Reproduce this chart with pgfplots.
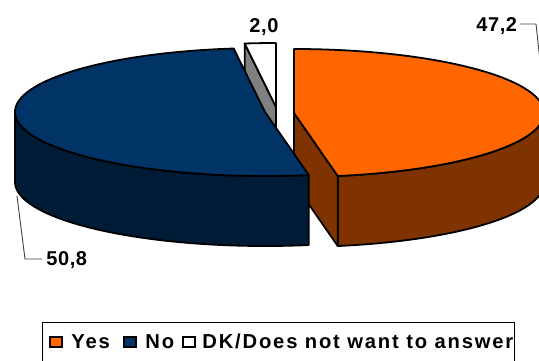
\documentclass[border=0pt]{standalone}
\usepackage{pgfplots}
\usepackage{pgfplotstable}
\pgfplotsset{compat=1.18}
\usepackage{fontspec}
\setmainfont{Liberation Sans}
\newfontfamily\legendfont[LetterSpace=9]{Liberation Sans}
\newfontfamily\labelfont[LetterSpace=3]{Liberation Sans}

\definecolor{yesTop}{HTML}{FF6600}
\definecolor{yesSide}{HTML}{7F3300}
\definecolor{noTop}{HTML}{003366}
\definecolor{noSide}{HTML}{001B36}
\definecolor{dkTop}{HTML}{FFFFFF}
\definecolor{dkSide}{HTML}{808080}

% shares in percent
\pgfplotstableread[col sep=comma]{
answer,share
Yes,47.2
No,50.8
DK/Does not want to answer,2.0
}\piedata

\pgfkeys{/pgf/number format/.cd,fixed,fixed zerofill,precision=1,use comma,assume math mode=true}

\begin{document}
\begin{tikzpicture}
\useasboundingbox (0,0) rectangle (269.5pt,180pt);
\pgfplotstablegetelem{0}{share}\of\piedata \let\vYes\pgfplotsretval
\pgfplotstablegetelem{1}{share}\of\piedata \let\vNo\pgfplotsretval
\pgfplotstablegetelem{2}{share}\of\piedata \let\vDK\pgfplotsretval
\pgfplotstablegetelem{0}{answer}\of\piedata \let\nYes\pgfplotsretval
\pgfplotstablegetelem{1}{answer}\of\piedata \let\nNo\pgfplotsretval
\pgfplotstablegetelem{2}{answer}\of\piedata \let\nDK\pgfplotsretval
% slice boundaries, clockwise from 12 o'clock
\pgfmathsetmacro\angB{90-3.6*\vYes}        % Yes | No
\pgfmathsetmacro\angBp{\angB+360}
\pgfmathsetmacro\angC{\angBp-3.6*\vNo}     % No | DK
% ellipse geometry (axis units = px)
\def\ra{250}\def\rb{64}\def\depth{70}
\def\rapt{125pt}\def\rbpt{32pt}\def\depthpt{35pt}
\tikzset{
  slice/.style={draw=black, line width=0.9pt, line join=round},
  lbl/.style={anchor=base west, inner sep=0pt, font=\labelfont\fontsize{10}{12}\selectfont\bfseries},
  leg/.style={anchor=base west, inner sep=0pt, font=\legendfont\fontsize{10.1}{12}\selectfont\bfseries},
}
\begin{axis}[
  at={(0,0)}, anchor=south west,
  x=0.5pt, y=0.5pt, y dir=reverse,
  xmin=0, xmax=539, ymin=0, ymax=360,
  hide axis, clip=true,
]
% ---- DK slice (exploded backwards)
\coordinate (dO)  at (axis cs:276,107);
\coordinate (dB)  at (axis cs:276,{107+\depth});
\coordinate (dT)  at (axis cs:276,{107-\rb});
\coordinate (dR)  at (axis cs:{276+\ra*cos(\angC)},{107-\rb*sin(\angC)});
\coordinate (dRb) at (axis cs:{276+\ra*cos(\angC)},{107-\rb*sin(\angC)+\depth});
\filldraw[slice, fill=dkSide] (dO) -- (dR) -- (dRb) -- (dB) -- cycle;
\filldraw[slice, fill=dkTop] (dO) -- (dT)
  arc[start angle=90, end angle=\angC, x radius=\rapt, y radius=\rbpt] -- cycle;

% ---- Yes slice (exploded to the right)
\coordinate (yO)  at (axis cs:294,113);
\coordinate (yOb) at (axis cs:294,{113+\depth});
\coordinate (yF)  at (axis cs:{294+\ra*cos(\angB)},{113-\rb*sin(\angB)});
\coordinate (yFb) at (axis cs:{294+\ra*cos(\angB)},{113-\rb*sin(\angB)+\depth});
\filldraw[slice, fill=yesSide] (yF)
  arc[start angle=\angB, end angle=0, x radius=\rapt, y radius=\rbpt]
  -- ++(0,-\depthpt)
  arc[start angle=0, end angle=\angB, x radius=\rapt, y radius=\rbpt] -- cycle;
\filldraw[slice, fill=yesSide] (yO) -- (yF) -- (yFb) -- (yOb) -- cycle;
\filldraw[slice, fill=yesTop] (yO) -- (yF)
  arc[start angle=\angB, end angle=90, x radius=\rapt, y radius=\rbpt] -- cycle;

% ---- No slice (exploded to the left)
\coordinate (nO) at (axis cs:265,112);
\coordinate (nL) at (axis cs:{265-\ra},112);
\coordinate (nT) at (axis cs:{265+\ra*cos(\angC)},{112-\rb*sin(\angC)});
\filldraw[slice, fill=noSide] (nL)
  arc[start angle=180, end angle=\angBp, x radius=\rapt, y radius=\rbpt]
  -- ++(0,-\depthpt)
  arc[start angle=\angBp, end angle=180, x radius=\rapt, y radius=\rbpt] -- cycle;
\filldraw[slice, fill=noTop] (nO) -- (nT)
  arc[start angle=\angC, end angle=\angBp, x radius=\rapt, y radius=\rbpt] -- cycle;

% ---- value labels with leader lines
\node[lbl] at (axis cs:249,32.5) {\pgfmathprintnumber{\vDK}};
\node[lbl] at (axis cs:476,31.5) {\pgfmathprintnumber{\vYes}};
\node[lbl] at (axis cs:46,265) {\pgfmathprintnumber{\vNo}};
\draw[line width=0.45pt, black!75] (axis cs:520,24) -- (axis cs:536,24) -- (axis cs:541,70);
\draw[line width=0.45pt, black!75] (axis cs:17,196) -- (axis cs:25,259) -- (axis cs:42,259);

% ---- legend
\draw[line width=0.5pt] (axis cs:42,322) rectangle (axis cs:514,368);
\filldraw[draw=black, line width=0.6pt, fill=yesTop] (axis cs:50,337) rectangle (axis cs:62,347);
\filldraw[draw=black, line width=0.6pt, fill=noTop]  (axis cs:124,337) rectangle (axis cs:136,347);
\filldraw[draw=black, line width=0.6pt, fill=dkTop]  (axis cs:183,337) rectangle (axis cs:195,347);
\node[leg] at (axis cs:71,348.5)  {\nYes};
\node[leg] at (axis cs:145,348.5) {\nNo};
\node[leg] at (axis cs:202,348.5) {\nDK};
\end{axis}
\end{tikzpicture}
\end{document}
